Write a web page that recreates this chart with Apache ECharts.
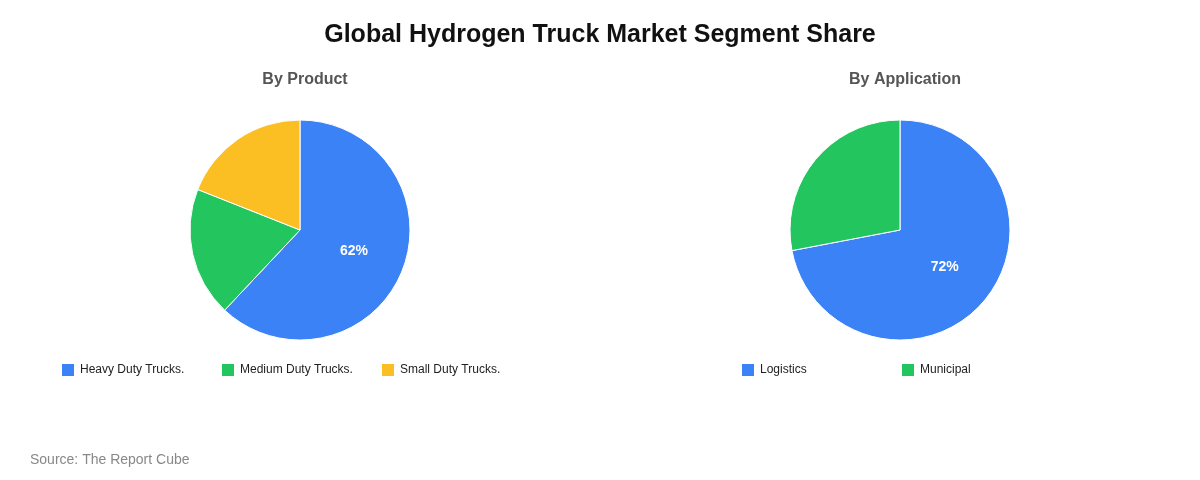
<!DOCTYPE html>
<html>
<head>
<meta charset="utf-8">
<script src="https://cdn.jsdelivr.net/npm/echarts@6/dist/echarts.min.js"></script>
<style>html,body{margin:0;padding:0;background:#fff}#chart{width:1200px;height:480px}</style>
</head>
<body>
<div id="chart"></div>
<script>
var productNames = ['Heavy Duty Trucks.', 'Medium Duty Trucks.', 'Small Duty Trucks.'];
var productValues = [62, 19, 19];
var applicationNames = ['Logistics', 'Municipal'];
var applicationValues = [72, 28];
var colors = ['#3b82f6', '#22c55e', '#fbbf24'];

function toData(names, values){
	var arr = [];
	for(var i=0; i<names.length; i++){
		arr.push({
			name: names[i],
			value: values[i],
			label: {show: i==0}
		});
	}
	return arr;
}

function pieSeries(names, values, cx){
	return {
		type: 'pie',
		radius: 110,
		center: [cx, 230],
		startAngle: 90,
		clockwise: true,
		data: toData(names, values),
		label: {
			position: 'inside',
			formatter: '{c}%',
			color: '#fff',
			fontWeight: 'bold',
			fontSize: 14,
			fontFamily: 'Liberation Sans'
		},
		labelLine: {show: false},
		itemStyle: {borderColor: '#fff', borderWidth: 1},
		emphasis: {disabled: true}
	};
}

// one legend per item so every item sits 160px from the previous one
function legendsFor(names, left){
	var arr = [];
	for(var i=0; i<names.length; i++){
		arr.push({
			data: [names[i]],
			left: left + i*160,
			top: 357,
			icon: 'rect',
			itemWidth: 14,
			itemHeight: 14,
			textStyle: {color: '#222', fontSize: 12, fontFamily: 'Liberation Sans'}
		});
	}
	return arr;
}

var chart = echarts.init(document.getElementById('chart'));
chart.setOption({
	color: colors,
	animation: false,
	title: [
		{text: 'Global Hydrogen Truck Market Segment Share', left: 'center', top: 18,
			textStyle: {fontSize: 25, fontWeight: 'bold', color: '#111', fontFamily: 'Liberation Sans'}},
		{text: 'By Product', left: 300, textAlign: 'center', top: 67,
			textStyle: {fontSize: 16, fontWeight: 'bold', color: '#555', fontFamily: 'Liberation Sans'}},
		{text: 'By Application', left: 900, textAlign: 'center', top: 67,
			textStyle: {fontSize: 16, fontWeight: 'bold', color: '#555', fontFamily: 'Liberation Sans'}},
		{text: 'Source: The Report Cube', left: 25, top: 448,
			textStyle: {fontSize: 14, fontWeight: 'normal', color: '#888', fontFamily: 'Liberation Sans'}}
	],
	legend: legendsFor(productNames, 55).concat(legendsFor(applicationNames, 735)),
	series: [
		pieSeries(productNames, productValues, 300),
		pieSeries(applicationNames, applicationValues, 900)
	]
});
</script>
</body>
</html>
